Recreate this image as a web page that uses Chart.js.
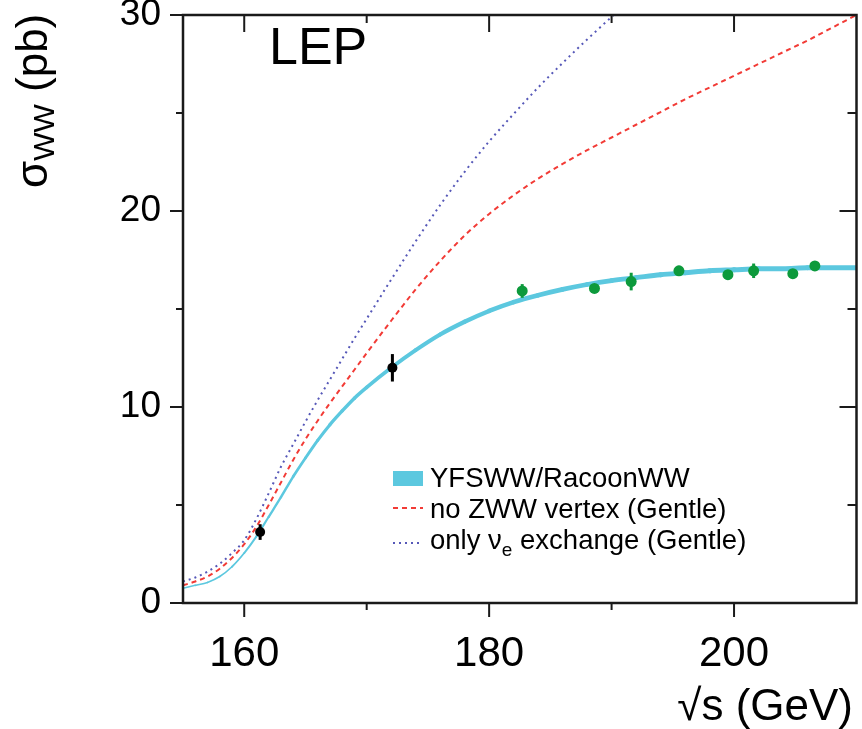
<!DOCTYPE html>
<html>
<head>
<meta charset="utf-8">
<script src="https://cdn.jsdelivr.net/npm/chart.js@4.4.1/dist/chart.umd.min.js"></script>
<style>
    html, body { margin: 0; padding: 0; background: #ffffff; }
    #wrap { width: 862px; height: 729px; }
</style>
</head>
<body>
<div id="wrap"><canvas id="xsecChart"></canvas></div>
<script>
// WW cross-section at LEP vs sqrt(s)

const curveX = [155, 156, 157, 158, 159, 160, 161, 162, 163, 164, 165, 166, 167, 168, 169, 170,
                172, 174, 176, 178, 180, 182, 184, 186, 188, 190, 192, 194, 196, 198, 200,
                202, 204, 206, 208, 210];
const yfswwRacoon = [0.75, 0.9, 1.05, 1.35, 1.85, 2.55, 3.4, 4.4, 5.4, 6.45, 7.4, 8.3, 9.1, 9.8, 10.45, 11.0,
                     12.0, 12.9, 13.7, 14.35, 14.9, 15.35, 15.7, 16.0, 16.25, 16.45, 16.6, 16.75, 16.85, 16.95, 17.0,
                     17.05, 17.05, 17.1, 17.1, 17.1];
const noZWW = [0.9, 1.1, 1.35, 1.75, 2.3, 3.0, 3.9, 5.0, 6.15, 7.3, 8.35, 9.3, 10.2, 11.05, 11.9, 12.75,
               14.4, 16.0, 17.45, 18.75, 19.85, 20.8, 21.65, 22.4, 23.1, 23.75, 24.4, 25.05, 25.7, 26.3, 26.9,
               27.5, 28.1, 28.7, 29.35, 30.0];
// only nu_e exchange leaves the frame at ~190 GeV
const nuEX = [155, 156, 157, 158, 159, 160, 161, 162, 163, 164, 165, 166, 167, 168, 169, 170,
              172, 174, 176, 178, 180, 182, 184, 186, 188, 190, 191];
const onlyNuE = [1.1, 1.3, 1.6, 2.0, 2.55, 3.2, 4.3, 5.6, 6.95, 8.1, 9.25, 10.35, 11.4, 12.45, 13.5, 14.5,
                 16.5, 18.45, 20.3, 22.0, 23.55, 24.95, 26.3, 27.55, 28.75, 29.9, 30.45];

// measurements
const earlyE = [161.3, 172.1];
const earlySigma = [3.62, 12.0];
const earlyErr = [0.4, 0.7];
const lepE = [182.7, 188.6, 191.6, 195.5, 199.5, 201.6, 204.8, 206.6];
const lepSigma = [15.92, 16.05, 16.4, 16.95, 16.75, 16.95, 16.8, 17.2];
const lepErr = [0.35, 0.1, 0.45, 0.25, 0.22, 0.37, 0.22, 0.12];

const xMajorTicks = [160, 180, 200];
const xMinorTicks = [170, 190];
const yMajorTicks = [0, 10, 20, 30];
const yMinorTicks = [5, 15, 25];

const FONT = '"Liberation Sans", Arial, Helvetica, sans-serif';
const CYAN = '#5cc8df';
const RED = '#f23b36';
const BLUE = '#5658b8';
const GREEN = '#0d9a3c';

const toXY = (xs, ys) => ys.map((v, i) => ({ x: xs[i], y: v }));

// error bars, frame, ticks, legend and labels
const errorBars = {
    id: 'errorBars',
    afterDatasetsDraw(chart) {
        const { ctx, scales: { x, y } } = chart;
        const sets = [[earlyE, earlySigma, earlyErr, '#000000'], [lepE, lepSigma, lepErr, GREEN]];
        ctx.save();
        ctx.lineWidth = 3;
        sets.forEach(([es, ss, errs, col]) => {
            ctx.strokeStyle = col;
            es.forEach((e, i) => {
                const px = x.getPixelForValue(e);
                ctx.beginPath();
                ctx.moveTo(px, y.getPixelForValue(ss[i] - errs[i]));
                ctx.lineTo(px, y.getPixelForValue(ss[i] + errs[i]));
                ctx.stroke();
            });
        });
        ctx.restore();
    }
};

const frameAndText = {
    id: 'frameAndText',
    afterDraw(chart) {
        const { ctx, chartArea: a, scales: { x, y } } = chart;
        ctx.save();
        ctx.strokeStyle = '#1a1a1a';
        ctx.lineWidth = 2.5;
        ctx.strokeRect(a.left, a.top, a.right - a.left, a.bottom - a.top);

        ctx.lineWidth = 2;
        const seg = (x1, y1, x2, y2) => {
            ctx.beginPath(); ctx.moveTo(x1, y1); ctx.lineTo(x2, y2); ctx.stroke();
        };
        xMajorTicks.forEach(v => {
            const px = x.getPixelForValue(v);
            seg(px, a.bottom, px, a.bottom + 14);
            seg(px, a.top, px, a.top + 17);
        });
        xMinorTicks.forEach(v => {
            const px = x.getPixelForValue(v);
            seg(px, a.bottom, px, a.bottom + 7);
            seg(px, a.top, px, a.top + 8);
        });
        yMajorTicks.forEach(v => {
            const py = y.getPixelForValue(v);
            seg(a.left - 13, py, a.left, py);
            seg(a.right - 17, py, a.right, py);
        });
        yMinorTicks.forEach(v => {
            const py = y.getPixelForValue(v);
            seg(a.left - 7, py, a.left, py);
            seg(a.right - 9, py, a.right, py);
        });

        ctx.fillStyle = '#000000';
        ctx.textBaseline = 'alphabetic';

        // LEP label
        ctx.font = `52px ${FONT}`;
        ctx.textAlign = 'left';
        ctx.fillText('LEP', 269, 64);

        // x axis title
        ctx.font = `44px ${FONT}`;
        ctx.textAlign = 'right';
        ctx.fillText('\u221As (GeV)', 853, 720);

        // y axis title, rotated, with subscript
        ctx.save();
        ctx.translate(47, 188);
        ctx.rotate(-Math.PI / 2);
        ctx.textAlign = 'left';
        ctx.font = `44px ${FONT}`;
        ctx.fillText('\u03C3', 0, 0);
        let off = ctx.measureText('\u03C3').width;
        ctx.font = `30px ${FONT}`;
        ctx.fillText('WW', off, 7);
        off += ctx.measureText('WW').width;
        ctx.font = `44px ${FONT}`;
        ctx.fillText(' (pb)', off, 0);
        ctx.restore();

        // legend
        ctx.textAlign = 'left';
        ctx.fillStyle = CYAN;
        ctx.fillRect(393, 471, 30, 15);
        ctx.lineWidth = 2;
        ctx.strokeStyle = RED;
        ctx.setLineDash([5, 4]);
        seg(393, 508, 423, 508);
        ctx.strokeStyle = BLUE;
        ctx.setLineDash([2, 4]);
        seg(393, 543, 423, 543);
        ctx.setLineDash([]);

        ctx.fillStyle = '#000000';
        ctx.font = `27.5px ${FONT}`;
        ctx.fillText('YFSWW/RacoonWW', 430, 487);
        ctx.fillText('no ZWW vertex (Gentle)', 430, 518);
        ctx.fillText('only \u03BD', 430, 549);
        let w = ctx.measureText('only \u03BD').width;
        ctx.font = `19px ${FONT}`;
        ctx.fillText('e', 430 + w, 556);
        w += ctx.measureText('e').width;
        ctx.font = `27.5px ${FONT}`;
        ctx.fillText(' exchange (Gentle)', 430 + w, 549);
        ctx.restore();
    }
};

const ctx = document.getElementById('xsecChart');

new Chart(ctx, {
    type: 'scatter',
    data: {
        datasets: [
            {
                label: 'early',
                data: toXY(earlyE, earlySigma),
                backgroundColor: '#000000',
                borderWidth: 0,
                pointRadius: 5
            },
            {
                label: 'LEP2',
                data: toXY(lepE, lepSigma),
                backgroundColor: GREEN,
                borderWidth: 0,
                pointRadius: 5.5
            },
            {
                label: 'only nu_e exchange (Gentle)',
                type: 'line',
                data: toXY(nuEX, onlyNuE),
                borderColor: BLUE,
                borderWidth: 2,
                borderDash: [2, 4],
                pointRadius: 0,
                cubicInterpolationMode: 'monotone'
            },
            {
                label: 'no ZWW vertex (Gentle)',
                type: 'line',
                data: toXY(curveX, noZWW),
                borderColor: RED,
                borderWidth: 2,
                borderDash: [5, 4],
                pointRadius: 0,
                cubicInterpolationMode: 'monotone'
            },
            {
                label: 'YFSWW/RacoonWW',
                type: 'line',
                data: toXY(curveX, yfswwRacoon),
                borderColor: CYAN,
                borderWidth: 3,
                borderCapStyle: 'round',
                pointRadius: 0,
                cubicInterpolationMode: 'monotone',
                segment: {
                    borderWidth: c => 1.4 + 0.21 * c.p0.parsed.y
                }
            }
        ]
    },
    options: {
        responsive: true,
        maintainAspectRatio: false,
        animation: false,
        layout: { padding: { left: 0, top: 15, right: 4, bottom: 0 } },
        plugins: {
            legend: { display: false },
            tooltip: { enabled: false }
        },
        scales: {
            x: {
                type: 'linear',
                min: 155,
                max: 210,
                afterBuildTicks: s => { s.ticks = xMajorTicks.map(v => ({ value: v })); },
                afterFit: s => { s.height = 126; s.paddingLeft = 0; s.paddingRight = 0; },
                ticks: { color: '#000000', padding: 26, maxRotation: 0, font: { family: FONT, size: 42 } },
                grid: { display: false, drawTicks: false },
                border: { display: false }
            },
            y: {
                type: 'linear',
                min: 0,
                max: 30,
                afterBuildTicks: s => { s.ticks = yMajorTicks.map(v => ({ value: v })); },
                afterFit: s => { s.width = 183; s.paddingTop = 0; s.paddingBottom = 0; },
                ticks: { color: '#000000', padding: 22, font: { family: FONT, size: 37 } },
                grid: { display: false, drawTicks: false },
                border: { display: false }
            }
        }
    },
    plugins: [errorBars, frameAndText]
});
</script>
</body>
</html>
